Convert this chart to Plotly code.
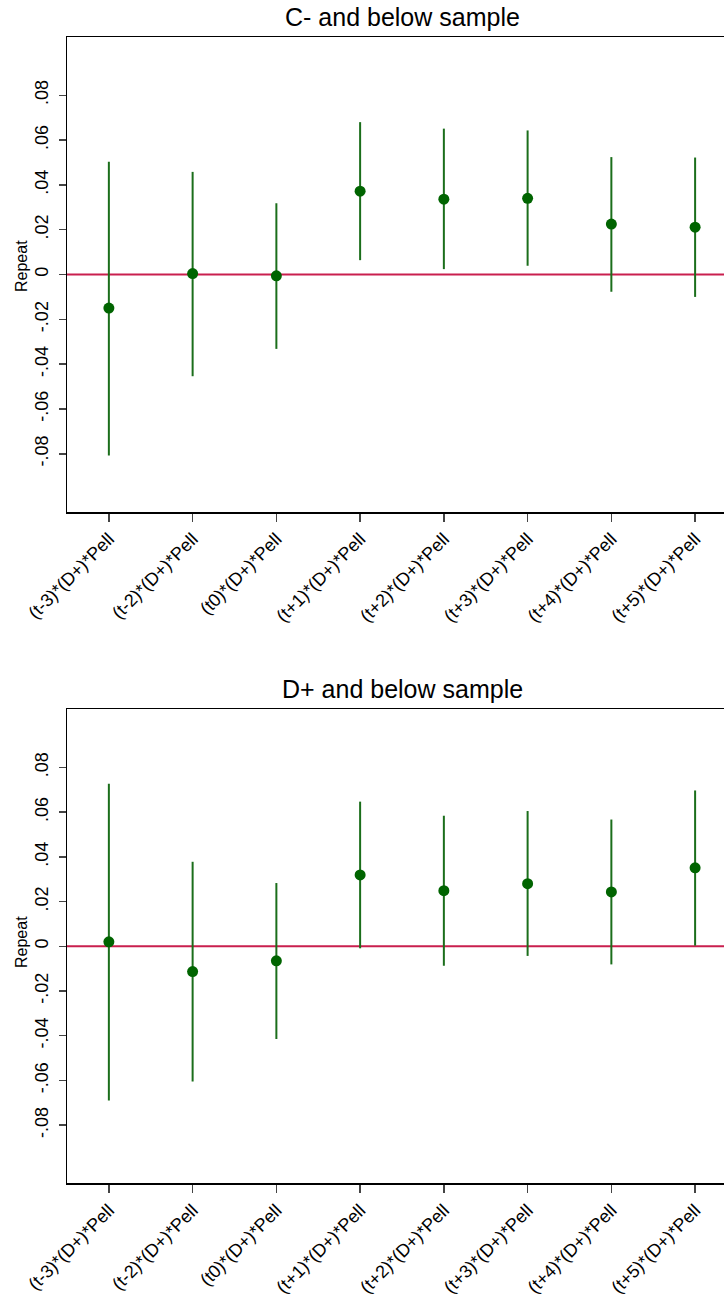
import plotly.graph_objects as go

categories = ["(t-3)*(D+)*Pell", "(t-2)*(D+)*Pell", "(t0)*(D+)*Pell", "(t+1)*(D+)*Pell",
              "(t+2)*(D+)*Pell", "(t+3)*(D+)*Pell", "(t+4)*(D+)*Pell", "(t+5)*(D+)*Pell"]

# Panel 1: C- and below sample
c_est = [-0.0150, 0.0004, -0.0006, 0.0372, 0.0336, 0.0340, 0.0225, 0.0211]
c_lo = [-0.0808, -0.0454, -0.0332, 0.0064, 0.0024, 0.0039, -0.0077, -0.0100]
c_hi = [0.0503, 0.0458, 0.0318, 0.0680, 0.0651, 0.0643, 0.0524, 0.0522]

# Panel 2: D+ and below sample
d_est = [0.0020, -0.0113, -0.0065, 0.0319, 0.0249, 0.0280, 0.0243, 0.0351]
d_lo = [-0.0690, -0.0605, -0.0415, -0.0009, -0.0087, -0.0043, -0.0081, 0.0003]
d_hi = [0.0727, 0.0378, 0.0283, 0.0647, 0.0584, 0.0605, 0.0567, 0.0697]

titles = ["C- and below sample", "D+ and below sample"]
ytick_vals = [-0.08, -0.06, -0.04, -0.02, 0, 0.02, 0.04, 0.06, 0.08]
ytick_text = ["-.08", "-.06", "-.04", "-.02", "0", ".02", ".04", ".06", ".08"]

W, H = 724, 1297
FONT = "Liberation Sans, Arial, Helvetica, sans-serif"
BAR_COLOR = "#1b6e1b"
MARK_COLOR = "#006400"
LINE_RED = "#c91f4e"

fig = go.Figure()

panels = [(c_est, c_lo, c_hi), (d_est, d_lo, d_hi)]
# plot areas in pixels (top, bottom) and y-title centre
px_rows = [(37, 512), (709.3, 1183.3)]
ytitle_px = [266, 942]
left_px = 67

for i, (est, lo, hi) in enumerate(panels):
    xa = "x" if i == 0 else "x2"
    ya = "y" if i == 0 else "y2"
    plus = [h - e for h, e in zip(hi, est)]
    minus = [e - l for e, l in zip(est, lo)]
    fig.add_trace(go.Scatter(
        x=list(range(len(categories))), y=est, mode="markers",
        marker=dict(color=MARK_COLOR, size=11),
        error_y=dict(type="data", array=plus, arrayminus=minus, symmetric=False,
                     color=BAR_COLOR, thickness=2, width=0),
        xaxis=xa, yaxis=ya, showlegend=False, cliponaxis=False, hoverinfo="skip",
    ))
    top, bot = px_rows[i]
    ydom = [1 - bot / H, 1 - top / H]
    axis_common = dict(showgrid=False, zeroline=False, showline=True, linecolor="black",
                       linewidth=1.5, ticks="outside", tickcolor="#444", tickwidth=1.5,
                       automargin=False, fixedrange=True)
    xkey = "xaxis" if i == 0 else "xaxis2"
    ykey = "yaxis" if i == 0 else "yaxis2"
    fig.update_layout({
        xkey: dict(domain=[left_px / W, 1], range=[-0.5, 7.345], anchor=ya,
                   tickmode="array", tickvals=list(range(len(categories))), ticktext=categories,
                   tickangle=-45, ticklen=8, mirror=True,
                   tickfont=dict(family=FONT, size=18, color="black"), **axis_common),
        ykey: dict(domain=ydom, range=[-0.106, 0.106], anchor=xa,
                   tickmode="array", tickvals=ytick_vals, ticktext=ytick_text,
                   tickangle=-90, ticklen=7, ticklabelstandoff=3,
                   tickfont=dict(family=FONT, size=18, color="black"), **axis_common),
    })
    fig.add_shape(type="line", xref=f"{xa} domain", yref=ya, x0=0, x1=1, y0=0, y1=0,
                  line=dict(color=LINE_RED, width=2), layer="below")
    # panel title
    fig.add_annotation(text=titles[i], xref="paper", yref="paper",
                       x=402 / W, y=1 - (top - 20) / H, showarrow=False,
                       font=dict(family=FONT, size=25, color="black"),
                       xanchor="center", yanchor="middle")
    # y-axis title
    fig.add_annotation(text="Repeat", xref="paper", yref="paper",
                       x=21 / W, y=1 - ytitle_px[i] / H, showarrow=False, textangle=-90,
                       font=dict(family=FONT, size=16, color="black"),
                       xanchor="center", yanchor="middle")

fig.update_layout(width=W, height=H, margin=dict(l=0, r=0, t=0, b=0, autoexpand=False),
                  paper_bgcolor="white", plot_bgcolor="white", hovermode=False)

fig.write_html("out.html", config={"displayModeBar": False, "staticPlot": True},
               post_script="document.body.style.margin='0';document.body.style.overflow='hidden';")
